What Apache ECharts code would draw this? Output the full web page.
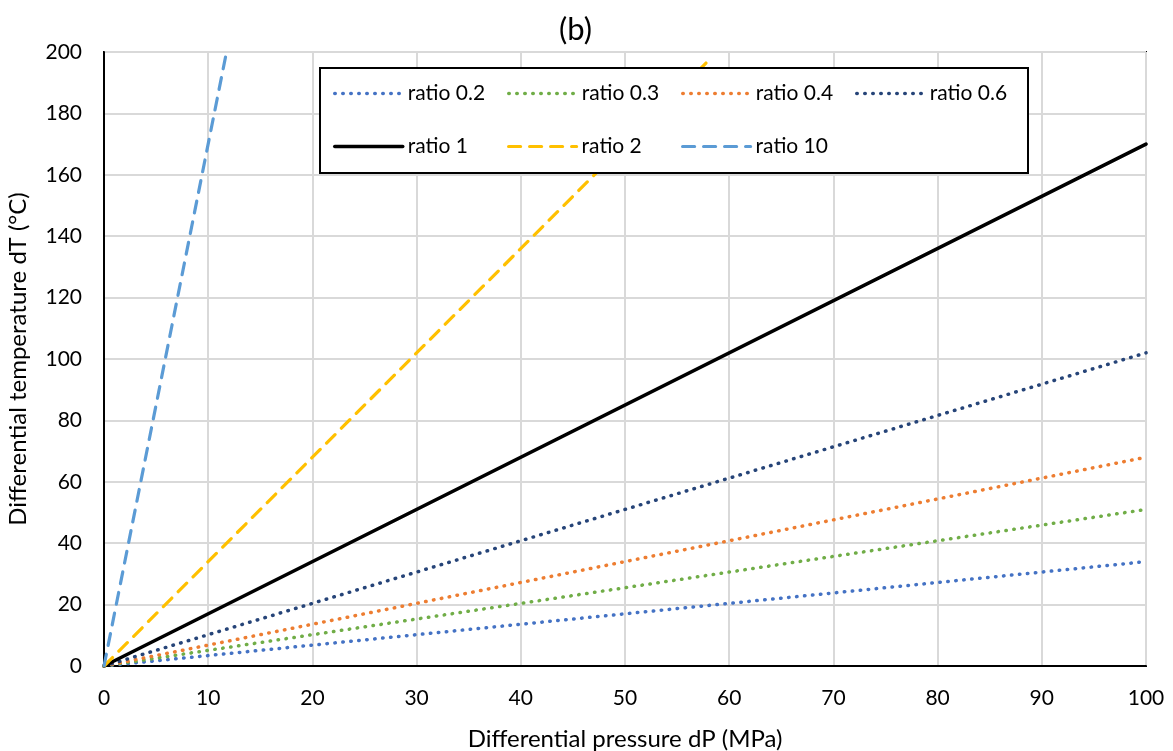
<!DOCTYPE html>
<html>
<head>
<meta charset="utf-8">
<script src="https://cdn.jsdelivr.net/npm/echarts@6/dist/echarts.min.js"></script>
<style>
  html, body { margin: 0; padding: 0; background: #fff; }
  .demo { width: 1173px; height: 751px; }
</style>
</head>
<body>
<div class="demo"></div>
<script>
// values
const names = ['ratio 0.2', 'ratio 0.3', 'ratio 0.4', 'ratio 0.6', 'ratio 1', 'ratio 2', 'ratio 10']
const dPFull = [0, 100]
const dPRatio2 = [0, 57.8]
const dPRatio10 = [0, 11.7]
const dT02 = [0, 34]
const dT03 = [0, 51]
const dT04 = [0, 68]
const dT06 = [0, 102]
const dT1 = [0, 170]
const dT2 = [0, 196.5]
const dT10 = [0, 199]
const xTicks = [0, 10, 20, 30, 40, 50, 60, 70, 80, 90, 100]
const yTicks = [0, 20, 40, 60, 80, 100, 120, 140, 160, 180, 200]

;(function(){
  const chartinstance = echarts.init(document.querySelector('.demo'))
  const font = 'Lato'
  const pairs = (xs, ys) => xs.map((x, i) => [x, ys[i]])
  const dotted = [0.5, 7.5]
  const dashed = [12, 9]

  const seriesDefs = [
    { x: dPFull, y: dT02, color: '#4472C4', type: dotted, width: 3.5 },
    { x: dPFull, y: dT03, color: '#70AD47', type: dotted, width: 3.5 },
    { x: dPFull, y: dT04, color: '#ED7D31', type: dotted, width: 3.5 },
    { x: dPFull, y: dT06, color: '#264478', type: dotted, width: 3.5 },
    { x: dPFull, y: dT1, color: '#000000', type: 'solid', width: 3.5 },
    { x: dPRatio2, y: dT2, color: '#FFC000', type: dashed, width: 3.2 },
    { x: dPRatio10, y: dT10, color: '#5B9BD5', type: dashed, width: 3.2 }
  ]

  // one legend per entry so the columns line up like the excel legend
  const legends = names.map((n, i) => ({
    data: [n],
    left: 333 + (i % 4) * 174,
    top: i < 4 ? 83 : 136,
    padding: 0,
    itemWidth: 68,
    itemHeight: 14,
    selectedMode: false,
    itemStyle: { opacity: 0 },
    lineStyle: { width: 'inherit' },
    textStyle: { fontFamily: font, fontSize: 21, color: '#000' },
    z: 5
  }))

  const option = {
    animation: false,
    backgroundColor: '#fff',
    title: {
      text: '(b)',
      left: 554,
      top: 9,
      textStyle: { fontFamily: font, fontSize: 31, fontWeight: 'normal', color: '#000' }
    },
    grid: {
      left: 104,
      right: 27,
      top: 52,
      bottom: 85,
      outerBoundsMode: 'none',
      show: true,
      borderColor: '#000',
      borderWidth: 2,
      backgroundColor: 'transparent'
    },
    legend: legends,
    graphic: [{
      type: 'rect',
      left: 319,
      top: 67,
      z: 4,
      shape: { width: 708, height: 105 },
      style: { fill: '#fff', stroke: '#000', lineWidth: 2 }
    }],
    xAxis: {
      type: 'value',
      min: xTicks[0],
      max: xTicks[xTicks.length - 1],
      interval: xTicks[1] - xTicks[0],
      name: 'Differential pressure dP (MPa)',
      nameLocation: 'middle',
      nameGap: 61,
      nameTextStyle: { fontFamily: font, fontSize: 24, color: '#000' },
      axisLine: { lineStyle: { color: '#000', width: 2 } },
      axisTick: { show: false },
      axisLabel: { fontFamily: font, fontSize: 21, color: '#000', margin: 22 },
      splitLine: { lineStyle: { color: '#d9d9d9', width: 2 } }
    },
    yAxis: {
      type: 'value',
      min: yTicks[0],
      max: yTicks[yTicks.length - 1],
      interval: yTicks[1] - yTicks[0],
      name: 'Differential temperature dT (°C)',
      nameLocation: 'middle',
      nameGap: 74,
      nameTextStyle: { fontFamily: font, fontSize: 24, color: '#000' },
      axisLine: { show: true, lineStyle: { color: '#000', width: 2 } },
      axisTick: { show: false },
      axisLabel: { fontFamily: font, fontSize: 21, color: '#000', margin: 22 },
      splitLine: { lineStyle: { color: '#d9d9d9', width: 2 } }
    },
    series: seriesDefs.map((d, i) => ({
      name: names[i],
      type: 'line',
      data: pairs(d.x, d.y),
      symbol: 'none',
      clip: true,
      color: d.color,
      lineStyle: { color: d.color, width: d.width, type: d.type, cap: 'round' },
      z: 2
    }))
  }
  option && chartinstance.setOption(option)
  window.addEventListener('resize',()=>{
    chartinstance.resize();
  })
})();
</script>
</body>
</html>
